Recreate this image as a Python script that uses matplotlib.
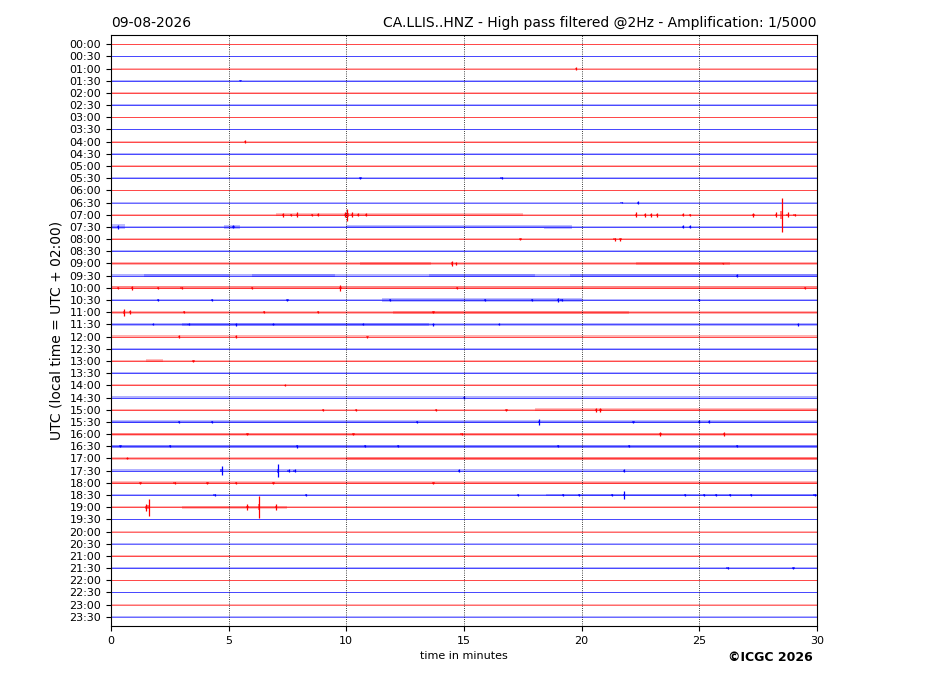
import numpy as np
import matplotlib
matplotlib.use("Agg")
import matplotlib.pyplot as plt

# one trace per half hour, 30 minutes long
labels = ["%02d:%02d" % (h, m) for h in range(24) for m in (0, 30)]
colors = ["r", "b"] * 24

# background noise half-amplitude per trace (in trace spacings)
noise = [0.04, 0.05, 0.06, 0.09, 0.06, 0.05, 0.05, 0.05, 0.09, 0.09, 0.06, 0.06,
         0.06, 0.06, 0.09, 0.11, 0.07, 0.09, 0.09, 0.12, 0.12, 0.11, 0.11, 0.11,
         0.09, 0.09, 0.11, 0.09, 0.07, 0.09, 0.09, 0.11, 0.11, 0.11, 0.09, 0.1,
         0.09, 0.09, 0.09, 0.07, 0.06, 0.06, 0.06, 0.09, 0.06, 0.05, 0.05, 0.04]

# noisier stretches: (trace, start min, end min, half-amplitude)
bursts = [(14, 7.0, 17.5, 0.13), (15, 0.0, 0.6, 0.2), (15, 4.8, 5.5, 0.15),
          (15, 10.0, 18.4, 0.12), (15, 18.4, 19.6, 0.17), (18, 10.6, 13.6, 0.15),
          (18, 22.3, 26.3, 0.13), (19, 1.4, 5.0, 0.15), (19, 6.0, 9.5, 0.15),
          (19, 13.5, 18.0, 0.13), (19, 19.5, 30.0, 0.14), (20, 0.0, 30.0, 0.13),
          (21, 11.5, 20.0, 0.13), (22, 12.0, 22.0, 0.13), (23, 3.0, 13.5, 0.13),
          (26, 1.5, 2.2, 0.12), (30, 18.0, 30.0, 0.12), (31, 0.0, 30.0, 0.12),
          (32, 0.0, 30.0, 0.12), (33, 0.0, 30.0, 0.12), (34, 10.0, 30.0, 0.12),
          (36, 0.0, 30.0, 0.11), (37, 18.5, 30.0, 0.12), (38, 3.0, 7.5, 0.11)]

# transient arrivals: (trace, minute, half-amplitude)
spikes = [(2, 19.76, 0.15), (3, 5.5, 0.06), (8, 5.7, 0.1), (11, 10.6, 0.08),
          (11, 16.6, 0.06), (13, 21.7, 0.06), (13, 22.4, 0.15),
          (14, 7.3, 0.15), (14, 7.65, 0.1), (14, 7.9, 0.2), (14, 8.55, 0.1),
          (14, 8.8, 0.12), (14, 9.95, 0.2), (14, 10.05, 0.5), (14, 10.25, 0.2),
          (14, 10.5, 0.12), (14, 10.85, 0.12), (14, 22.3, 0.2), (14, 22.7, 0.15),
          (14, 22.95, 0.15), (14, 23.2, 0.15), (14, 24.3, 0.12), (14, 24.6, 0.1),
          (14, 27.3, 0.15), (14, 28.25, 0.2), (14, 28.5, 1.4), (14, 28.75, 0.2),
          (14, 29.05, 0.1), (15, 0.3, 0.15), (15, 5.2, 0.12), (15, 24.3, 0.12),
          (15, 24.6, 0.12), (16, 17.4, 0.06), (16, 21.4, 0.12), (16, 21.65, 0.12),
          (18, 14.5, 0.2), (18, 14.65, 0.15), (18, 26.0, 0.08), (19, 26.6, 0.1),
          (20, 0.3, 0.1), (20, 0.9, 0.15), (20, 2.0, 0.1), (20, 3.0, 0.08),
          (20, 6.0, 0.08), (20, 9.75, 0.25), (20, 14.7, 0.1), (20, 29.5, 0.1),
          (21, 2.0, 0.08), (21, 4.3, 0.08), (21, 7.5, 0.08),
          (21, 11.85, 0.12), (21, 15.9, 0.12), (21, 17.9, 0.1), (21, 19.0, 0.15),
          (21, 19.15, 0.12), (21, 25.0, 0.08), (22, 0.55, 0.3), (22, 0.8, 0.15),
          (22, 3.1, 0.08), (22, 6.5, 0.1), (22, 8.8, 0.08), (22, 13.7, 0.08),
          (23, 1.8, 0.08), (23, 3.3, 0.08), (23, 5.3, 0.12), (23, 6.9, 0.08),
          (23, 10.7, 0.08), (23, 13.7, 0.12), (23, 16.5, 0.08), (23, 29.2, 0.1),
          (24, 2.9, 0.12), (24, 5.3, 0.1), (24, 10.9, 0.08),
          (26, 3.5, 0.06), (28, 7.4, 0.08), (29, 15.0, 0.1),
          (30, 9.0, 0.08), (30, 10.4, 0.08), (30, 13.8, 0.08), (30, 16.8, 0.08),
          (30, 20.6, 0.18), (30, 20.8, 0.15),
          (31, 2.9, 0.08), (31, 4.3, 0.1), (31, 13.0, 0.1), (31, 18.2, 0.22),
          (31, 22.2, 0.08), (31, 25.0, 0.12), (31, 25.4, 0.12),
          (32, 5.8, 0.08), (32, 10.3, 0.08), (32, 14.9, 0.08),
          (32, 23.35, 0.15), (32, 26.05, 0.15), (33, 0.4, 0.1), (33, 2.5, 0.08),
          (33, 7.9, 0.12), (33, 10.8, 0.08), (33, 12.2, 0.08), (33, 19.0, 0.08),
          (33, 22.0, 0.08), (33, 26.6, 0.08), (34, 0.7, 0.08),
          (35, 4.7, 0.35), (35, 7.1, 0.55), (35, 7.55, 0.12),
          (35, 7.8, 0.12), (35, 14.8, 0.15), (35, 21.8, 0.12), (36, 1.25, 0.1),
          (36, 2.7, 0.08), (36, 4.1, 0.08), (36, 5.3, 0.08), (36, 6.9, 0.08),
          (36, 13.7, 0.08), (37, 4.4, 0.1), (37, 8.3, 0.06), (37, 17.3, 0.08),
          (37, 19.2, 0.1), (37, 19.9, 0.12), (37, 21.3, 0.08), (37, 21.8, 0.3),
          (37, 24.4, 0.08), (37, 25.2, 0.08), (37, 25.7, 0.1), (37, 26.3, 0.08),
          (37, 27.2, 0.08), (37, 29.9, 0.08),
          (38, 1.5, 0.3), (38, 1.6, 0.7),
          (38, 5.8, 0.25), (38, 6.3, 0.9), (38, 7.0, 0.25), (43, 26.2, 0.1),
          (43, 29.0, 0.08)]

fig = plt.figure(figsize=(9.27, 6.96), dpi=100)
ax = fig.add_axes([0.1197, 0.1006, 0.7616, 0.8491])

for i, (lab, c) in enumerate(zip(labels, colors)):
    a = noise[i]
    ax.fill_between([0, 30], i - a, i + a, color=c, alpha=0.3, lw=0)
    ax.plot([0, 30], [i, i], color=c, lw=0.7, alpha=0.6)

for i, t0, t1, a in bursts:
    ax.fill_between([t0, t1], i - a, i + a, color=colors[i], alpha=0.25, lw=0)

for i, t, a in spikes:
    ax.vlines(t, i - a, i + a, color=colors[i], lw=0.9)
    ax.fill_between([t - 0.05, t + 0.05], i - a * 0.2 - 0.05, i + a * 0.2 + 0.05,
                    color=colors[i], alpha=0.5, lw=0)

ax.set_xlim(0, 30)
ax.set_ylim(len(labels) - 0.25, -0.75)
ax.set_xticks([0, 5, 10, 15, 20, 25, 30])
ax.set_yticks(range(len(labels)))
ax.set_yticklabels(labels)
ax.tick_params(labelsize=8)
for x in [5, 10, 15, 20, 25]:
    ax.axvline(x, color="k", ls=":", lw=0.6)

ax.set_xlabel("time in minutes", fontsize=8)
ax.set_ylabel("UTC (local time = UTC + 02:00)", fontsize=10)
ax.set_title("09-08-2026", loc="left", fontsize=10)
ax.set_title("CA.LLIS..HNZ - High pass filtered @2Hz - Amplification: 1/5000",
             loc="right", fontsize=10)
fig.text(0.831, 0.055, "\u00a9ICGC 2026", fontsize=9, fontweight="bold",
         ha="center", va="center")

plt.savefig("out.png")
